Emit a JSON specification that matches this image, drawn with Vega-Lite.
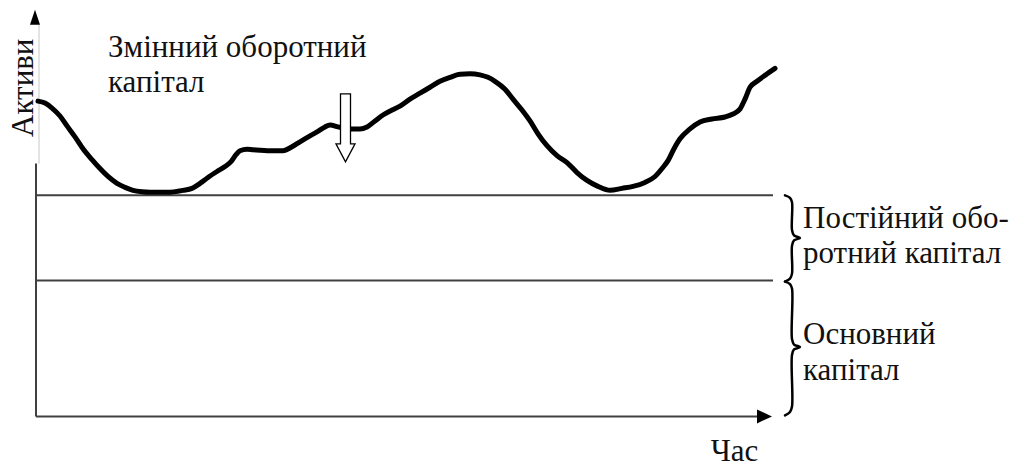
{
  "$schema": "https://vega.github.io/schema/vega-lite/v6.json",
  "width": 1010,
  "height": 467,
  "autosize": {"type": "fit", "contains": "padding"},
  "padding": 0,
  "background": "white",
  "config": {"view": {"stroke": null}},
  "datasets": {
    "curve": [
      {"t":0.1,"v":31.8},{"t":0.8,"v":31.6},{"t":1.5,"v":31.1},{"t":2.3,"v":30.3},{"t":3.0,"v":29.3},
      {"t":3.8,"v":28.2},{"t":4.6,"v":27.0},{"t":5.5,"v":25.9},{"t":6.3,"v":25.0},{"t":7.1,"v":24.2},
      {"t":8.0,"v":23.5},{"t":8.8,"v":23.1},{"t":9.6,"v":22.8},{"t":10.5,"v":22.65},{"t":11.3,"v":22.6},
      {"t":13.0,"v":22.6},{"t":14.6,"v":22.8},{"t":15.5,"v":23.0},{"t":16.3,"v":23.5},{"t":17.1,"v":24.1},
      {"t":18.0,"v":24.7},{"t":18.8,"v":25.2},{"t":19.4,"v":25.7},{"t":19.9,"v":26.4},{"t":20.3,"v":26.8},
      {"t":21.0,"v":26.95},{"t":21.6,"v":26.9},{"t":23.3,"v":26.8},{"t":24.6,"v":26.8},{"t":25.5,"v":27.2},
      {"t":26.3,"v":27.7},{"t":27.3,"v":28.3},{"t":28.0,"v":28.7},{"t":28.8,"v":29.2},{"t":29.3,"v":29.4},
      {"t":30.1,"v":29.2},{"t":31.0,"v":29.0},{"t":32.3,"v":29.0},{"t":33.0,"v":29.2},{"t":33.8,"v":29.8},
      {"t":34.6,"v":30.4},{"t":35.5,"v":30.9},{"t":36.3,"v":31.3},{"t":37.3,"v":32.0},{"t":38.3,"v":32.6},
      {"t":39.3,"v":33.2},{"t":40.3,"v":33.8},{"t":41.3,"v":34.2},{"t":42.3,"v":34.5},{"t":43.3,"v":34.55},
      {"t":44.3,"v":34.45},{"t":45.1,"v":34.2},{"t":45.8,"v":33.8},{"t":46.8,"v":33.0},{"t":47.6,"v":32.0},
      {"t":48.5,"v":30.9},{"t":49.3,"v":29.8},{"t":50.1,"v":28.5},{"t":51.0,"v":27.3},{"t":52.0,"v":26.3},
      {"t":53.0,"v":25.6},{"t":54.0,"v":24.6},{"t":55.0,"v":23.8},{"t":56.1,"v":23.2},{"t":57.3,"v":22.8},
      {"t":58.5,"v":23.0},{"t":59.6,"v":23.2},{"t":60.8,"v":23.6},{"t":61.8,"v":24.2},{"t":62.5,"v":25.0},
      {"t":63.1,"v":25.8},{"t":63.7,"v":27.0},{"t":64.3,"v":28.0},{"t":65.3,"v":29.0},{"t":66.3,"v":29.7},
      {"t":67.5,"v":30.0},{"t":68.8,"v":30.2},{"t":69.6,"v":30.5},{"t":70.3,"v":31.0},{"t":70.8,"v":32.0},
      {"t":71.3,"v":33.2},{"t":72.0,"v":33.8},{"t":72.8,"v":34.4},{"t":73.8,"v":35.1}
    ],
    "lines": [
      {"part":"y-axis","t":-0.1,"t2":-0.1,"v":0,"v2":25.5},
      {"part":"x-axis","t":-0.1,"t2":72.3,"v":0,"v2":0},
      {"part":"fixed working capital","t":0,"t2":73.6,"v":22.3,"v2":22.3},
      {"part":"fixed capital","t":0,"t2":73.6,"v":13.7,"v2":13.7}
    ],
    "faint": [
      {"part":"y-axis top","t":0.2,"t2":0.2,"v":25.5,"v2":39.5}
    ],
    "arrowY": [{"t":-0.2,"v":40.25}],
    "arrowX": [{"t":72.75,"v":0}],
    "hollow": [{"t":30.85,"v":29.1}],
    "braces": [
      {"brace":"a","i":0,"t":74.8,"v":22.3},{"brace":"a","i":1,"t":75.3,"v":22.05},{"brace":"a","i":2,"t":75.5,"v":21.6},
      {"brace":"a","i":3,"t":75.5,"v":18.8},{"brace":"a","i":4,"t":75.7,"v":18.25},{"brace":"a","i":5,"t":76.3,"v":18.0},
      {"brace":"a","i":6,"t":75.7,"v":17.75},{"brace":"a","i":7,"t":75.5,"v":17.2},{"brace":"a","i":8,"t":75.5,"v":14.4},
      {"brace":"a","i":9,"t":75.3,"v":13.9},{"brace":"a","i":10,"t":74.8,"v":13.6},
      {"brace":"b","i":0,"t":74.8,"v":13.6},{"brace":"b","i":1,"t":75.3,"v":13.35},{"brace":"b","i":2,"t":75.5,"v":12.9},
      {"brace":"b","i":3,"t":75.5,"v":7.8},{"brace":"b","i":4,"t":75.7,"v":7.25},{"brace":"b","i":5,"t":76.3,"v":7.0},
      {"brace":"b","i":6,"t":75.7,"v":6.75},{"brace":"b","i":7,"t":75.5,"v":6.2},{"brace":"b","i":8,"t":75.5,"v":1.0},
      {"brace":"b","i":9,"t":75.3,"v":0.45},{"brace":"b","i":10,"t":74.8,"v":0.1}
    ],
    "leftLabels": [
      {"label":"Змінний оборотний","t":7.1,"v":36.3},
      {"label":"капітал","t":7.1,"v":32.7},
      {"label":"Постійний обо-","t":76.6,"v":19.0},
      {"label":"ротний капітал","t":76.6,"v":15.5},
      {"label":"Основний","t":76.6,"v":7.3},
      {"label":"капітал","t":76.6,"v":3.7}
    ],
    "xTitle": [{"label":"Час","t":69.75,"v":-4.5}],
    "yTitle": [{"label":"Активи","t":-0.4,"v":33.15}]
  },
  "encoding": {
    "x": {"field":"t","type":"quantitative","scale":{"domain":[-3.7,97.3],"nice":false,"zero":false},"axis":null},
    "y": {"field":"v","type":"quantitative","scale":{"domain":[-4.7,42.0],"nice":false,"zero":false},"axis":null}
  },
  "layer": [
    {
      "data":{"name":"faint"},
      "mark":{"type":"rule","color":"#c8c8c8","strokeWidth":1},
      "encoding":{"x2":{"field":"t2"},"y2":{"field":"v2"}}
    },
    {
      "data":{"name":"lines"},
      "mark":{"type":"rule","color":"#404040","strokeWidth":2},
      "encoding":{"x2":{"field":"t2"},"y2":{"field":"v2"}}
    },
    {
      "data":{"name":"arrowY"},
      "mark":{"type":"point","shape":"M0,-1L0.67,1L-0.67,1Z","size":225,"filled":true,"fill":"#000","stroke":null,"opacity":1}
    },
    {
      "data":{"name":"arrowX"},
      "mark":{"type":"point","shape":"M1,0L-1,-0.93L-1,0.93Z","size":225,"filled":true,"fill":"#000","stroke":null,"opacity":1}
    },
    {
      "data":{"name":"curve"},
      "mark":{"type":"line","color":"#000","strokeWidth":5,"interpolate":"monotone","strokeCap":"round","strokeJoin":"round"}
    },
    {
      "data":{"name":"hollow"},
      "mark":{"type":"point","shape":"M-0.147,-1L0.147,-1L0.147,0.47L0.28,0.47L0,1L-0.28,0.47L-0.147,0.47Z","size":4624,"filled":true,"fill":"#fff","stroke":"#000","strokeWidth":1.3,"opacity":1}
    },
    {
      "data":{"name":"braces"},
      "mark":{"type":"line","color":"#000","strokeWidth":2.5,"interpolate":"catmull-rom","strokeCap":"round"},
      "encoding":{"detail":{"field":"brace"},"order":{"field":"i","type":"quantitative"}}
    },
    {
      "data":{"name":"leftLabels"},
      "mark":{"type":"text","align":"left","baseline":"alphabetic","font":"Liberation Serif","fontSize":31,"color":"#111"},
      "encoding":{"text":{"field":"label"}}
    },
    {
      "data":{"name":"xTitle"},
      "mark":{"type":"text","align":"center","baseline":"alphabetic","font":"Liberation Serif","fontSize":31,"color":"#111"},
      "encoding":{"text":{"field":"label"}}
    },
    {
      "data":{"name":"yTitle"},
      "mark":{"type":"text","align":"center","baseline":"alphabetic","angle":270,"font":"Liberation Serif","fontSize":31,"color":"#111"},
      "encoding":{"text":{"field":"label"}}
    }
  ]
}
